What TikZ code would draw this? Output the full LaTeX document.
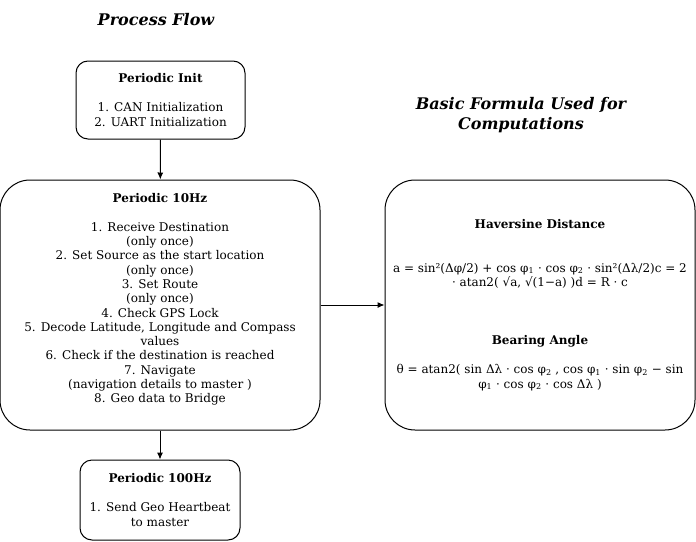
\documentclass[tikz,border=0pt]{standalone}
\usepackage{fontspec}
\setmainfont{DejaVu Serif}
\usepackage{tikz}
\usetikzlibrary{arrows.meta}
\usetikzlibrary{shapes,arrows,positioning}
\tikzset{>={Latex[length=7pt, width=6pt]}}
\tikzset{flow-line/.style={line width=1pt}}
\tikzset{task-box/.style={draw, line width=1pt, align=center, inner sep=0,
    font=\fontsize{12}{14.5}\selectfont, rounded corners=12pt}}
\tikzset{big-task-box/.style={task-box, rounded corners=30pt}}
\tikzset{heading/.style={align=center, font=\fontsize{16}{20}\selectfont\bfseries\itshape}}
\newcommand{\sub}[1]{\textsubscript{#1}}

\begin{document}
\begin{tikzpicture}[x=1pt, y=-1pt]
    \useasboundingbox (0,0) rectangle (696,541);

    % left column
    \node[heading] (flowtitle) at (156,20) {Process Flow};

    \node[task-box, minimum width=169pt, minimum height=78pt] (init) at (160.5,100)
        {\textbf{Periodic Init}\\[14.5pt] 1. CAN Initialization\\ 2. UART Initialization};

    \node[big-task-box, minimum width=320pt, minimum height=250pt,
          font=\fontsize{12}{14.3}\selectfont] (tenhz) at (160,305)
        {\textbf{Periodic 10Hz}\\[14.3pt]
         1. Receive Destination\\ (only once)\\
         2. Set Source as the start location\\ (only once)\\
         3. Set Route\\ (only once)\\
         4. Check GPS Lock\\
         5. Decode Latitude, Longitude and Compass\\ values\\
         6. Check if the destination is reached\\
         7. Navigate\\ (navigation details to master )\\
         8. Geo data to Bridge\\[-5pt]\strut};

    \node[task-box, minimum width=160pt, minimum height=80pt] (hundredhz) at (160,500)
        {\textbf{Periodic 100Hz}\\[14.5pt] 1. Send Geo Heartbeat\\ to master};

    % right column
    \node[heading] (formulatitle) at (521,115) {Basic Formula Used for\\ Computations};

    \node[big-task-box, minimum width=310pt, minimum height=250pt] (formula) at (540,305)
        {\textbf{Haversine Distance}\\[29pt]
         a = sin²(Δφ/2) + cos φ\sub{1} · cos φ\sub{2} · sin²(Δλ/2)c = 2\\
         · atan2( √a, √(1−a) )d = R · c\\[43.5pt]
         \textbf{Bearing Angle}\\[14.5pt]
         θ = atan2( sin Δλ · cos φ\sub{2} , cos φ\sub{1} · sin φ\sub{2} − sin\\
         φ\sub{1} · cos φ\sub{2} · cos Δλ )};

    % connectors
    \draw[->, flow-line] (init) -- (tenhz);
    \draw[->, flow-line] (tenhz) -- (hundredhz);
    \draw[->, flow-line] (tenhz) -- (formula);
\end{tikzpicture}
\end{document}
